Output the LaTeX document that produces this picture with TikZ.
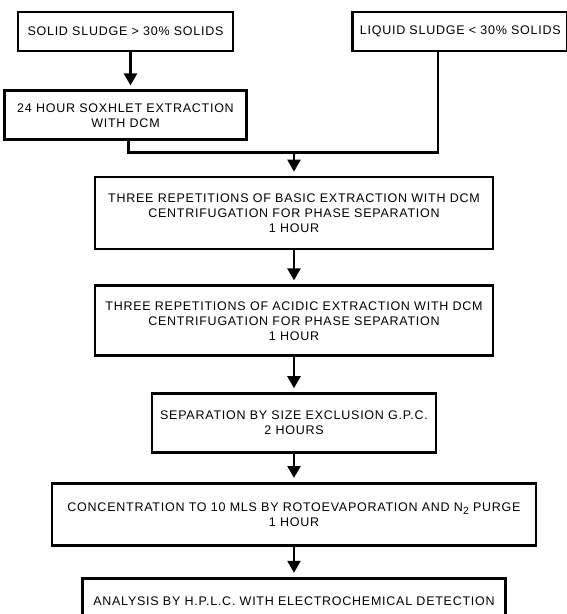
\documentclass[tikz,border=0pt]{standalone}
\usepackage{fontspec}
\setmainfont{Liberation Sans}[LetterSpace=6]
\usetikzlibrary{positioning,arrows.meta}

\begin{document}
\begin{tikzpicture}[node distance=34pt,
        stage/.style={draw, rectangle, line width=2.8pt, align=center, inner sep=2pt},
        link/.style={line width=2.3pt},
        flow/.style={link, -{Triangle[width=13pt,length=12pt]}, shorten >=4pt}]
        \fontsize{12.5}{15}\selectfont
        \useasboundingbox (0pt,0pt) rectangle (566pt,-614pt);
        \node[stage, minimum width=215pt, minimum height=39pt] (solid) at (125.5pt,-31.5pt) {SOLID SLUDGE > 30\% SOLIDS};
        \node[stage, minimum width=215pt, minimum height=39pt, right=117pt of solid] (liquid) {LIQUID SLUDGE < 30\% SOLIDS};
        \node[stage, minimum width=242pt, minimum height=49pt, below=37pt of solid] (soxhlet) {24 HOUR SOXHLET EXTRACTION\\WITH DCM};
        \node[stage, minimum width=398pt, minimum height=72pt] (basic) at (294pt,-213pt) {THREE REPETITIONS OF BASIC EXTRACTION WITH DCM\\CENTRIFUGATION FOR PHASE SEPARATION\\1 HOUR};
        \node[stage, minimum width=398pt, minimum height=70pt, below=34pt of basic] (acidic) {THREE REPETITIONS OF ACIDIC EXTRACTION WITH DCM\\CENTRIFUGATION FOR PHASE SEPARATION\\1 HOUR};
        \node[stage, minimum width=284pt, minimum height=59pt, below=35pt of acidic] (gpc) {SEPARATION BY SIZE EXCLUSION G.P.C.\\2 HOURS};
        \node[stage, minimum width=484pt, minimum height=62pt, below=28pt of gpc] (concentrate) {CONCENTRATION TO 10 MLS BY ROTOEVAPORATION AND N\raisebox{-3pt}{\fontsize{10.5}{10.5}\selectfont 2} PURGE\\1 HOUR};
        \node[stage, minimum width=423pt, minimum height=46pt, below=30pt of concentrate] (hplc) {ANALYSIS BY H.P.L.C. WITH ELECTROCHEMICAL DETECTION};
        \coordinate[above=23pt of basic.north] (join);

        \draw[flow] ([xshift=5pt]solid.south) -- ([xshift=5pt]soxhlet.north);
        \draw[link] ([xshift=3pt]soxhlet.south) |- (join);
        \draw[link] ([xshift=-22pt]liquid.south) |- (join);
        \draw[flow] (join) -- (basic);
        \draw[flow] (basic) -- (acidic);
        \draw[flow] (acidic) -- (gpc);
        \draw[flow] (gpc) -- (concentrate);
        \draw[flow] (concentrate) -- (hplc);
    \end{tikzpicture}
\end{document}
